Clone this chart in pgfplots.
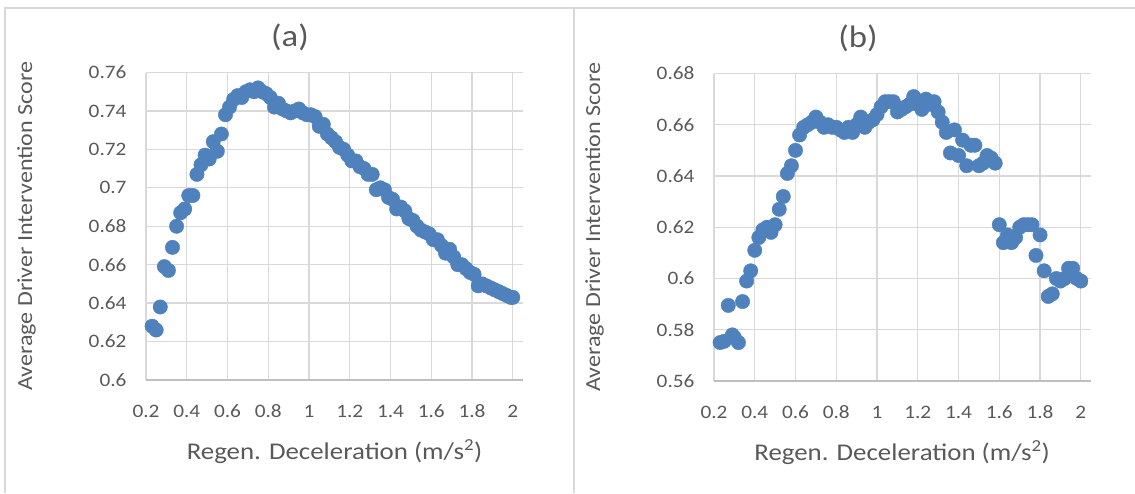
\documentclass[border=0pt]{standalone}
\usepackage{pgfplots}
\pgfplotsset{compat=1.18}
\usepackage{pgfplotstable}
\usepackage{fontspec}
\setmainfont{Carlito}[FakeStretch=1.12]
\definecolor{txt}{RGB}{89,89,89}
\definecolor{grd}{RGB}{217,217,217}
\definecolor{axl}{RGB}{191,191,191}
\definecolor{ptc}{RGB}{79,129,189}

\pgfplotstableread{
x y
0.23 0.628
0.25 0.626
0.27 0.638
0.29 0.659
0.31 0.657
0.33 0.669
0.35 0.680
0.37 0.687
0.39 0.689
0.41 0.696
0.43 0.696
0.45 0.707
0.47 0.712
0.49 0.717
0.51 0.715
0.53 0.724
0.55 0.719
0.57 0.728
0.59 0.738
0.61 0.742
0.63 0.746
0.65 0.748
0.67 0.747
0.69 0.750
0.71 0.751
0.73 0.750
0.75 0.752
0.77 0.750
0.79 0.749
0.81 0.747
0.83 0.742
0.85 0.744
0.87 0.741
0.89 0.740
0.91 0.739
0.93 0.740
0.95 0.741
0.97 0.739
0.99 0.738
1.01 0.738
1.03 0.737
1.05 0.732
1.07 0.733
1.09 0.728
1.11 0.726
1.13 0.724
1.15 0.721
1.17 0.720
1.19 0.717
1.21 0.714
1.23 0.714
1.25 0.711
1.27 0.710
1.29 0.707
1.31 0.707
1.33 0.699
1.35 0.700
1.37 0.699
1.39 0.695
1.41 0.694
1.43 0.689
1.45 0.690
1.47 0.688
1.49 0.684
1.51 0.683
1.53 0.680
1.55 0.678
1.57 0.677
1.59 0.676
1.61 0.673
1.63 0.673
1.65 0.670
1.67 0.666
1.69 0.668
1.71 0.664
1.73 0.660
1.75 0.660
1.77 0.658
1.79 0.656
1.81 0.655
1.83 0.649
1.85 0.650
1.87 0.649
1.89 0.648
1.91 0.647
1.93 0.646
1.95 0.645
1.97 0.644
1.99 0.643
2.00 0.643
}\dataA

\pgfplotstableread{
x y
0.23 0.575
0.25 0.5755
0.27 0.5895
0.29 0.578
0.30 0.577
0.32 0.575
0.34 0.591
0.36 0.599
0.38 0.603
0.40 0.611
0.42 0.616
0.44 0.619
0.46 0.620
0.48 0.618
0.50 0.621
0.52 0.627
0.54 0.632
0.56 0.641
0.58 0.644
0.60 0.650
0.62 0.656
0.64 0.659
0.66 0.660
0.68 0.661
0.70 0.663
0.72 0.661
0.74 0.659
0.76 0.660
0.78 0.659
0.80 0.659
0.82 0.658
0.84 0.657
0.86 0.659
0.88 0.657
0.90 0.660
0.92 0.663
0.94 0.659
0.96 0.661
0.98 0.662
1.00 0.664
1.02 0.667
1.04 0.669
1.06 0.669
1.08 0.669
1.10 0.665
1.12 0.666
1.14 0.667
1.16 0.668
1.18 0.671
1.20 0.668
1.22 0.666
1.24 0.670
1.26 0.668
1.28 0.669
1.30 0.665
1.32 0.661
1.34 0.657
1.36 0.649
1.38 0.658
1.40 0.648
1.42 0.654
1.44 0.644
1.46 0.652
1.48 0.652
1.50 0.644
1.52 0.645
1.54 0.648
1.56 0.647
1.58 0.645
1.60 0.621
1.62 0.614
1.64 0.617
1.66 0.614
1.68 0.616
1.70 0.620
1.72 0.621
1.74 0.621
1.76 0.621
1.78 0.609
1.80 0.617
1.82 0.603
1.84 0.593
1.86 0.594
1.88 0.600
1.90 0.599
1.92 0.600
1.94 0.604
1.96 0.604
1.98 0.600
2.00 0.599
}\dataB

\pgfplotsset{
  panel/.style={
    scale only axis, width=377pt, height=307.5pt, anchor=south west,
    xmin=0.2, xmax=2.05,
    xtick={0.2,0.4,0.6,0.8,1,1.2,1.4,1.6,1.8,2},
    xticklabels={0.2,0.4,0.6,0.8,1,1.2,1.4,1.6,1.8,2},
    grid=major, major grid style={grd, line width=1.3pt},
    axis line style={draw=none},
    major tick length=0pt,
    tick label style={font=\fontsize{19}{21}\selectfont, text=txt},
    xticklabel style={anchor=base, yshift=-37pt},
    yticklabel style={anchor=east, xshift=-16pt},
    /pgf/number format/assume math mode=true,
    xlabel={Regen. Deceleration (m/s\textsuperscript{2})},
    xlabel style={font=\fontsize{24}{28}\selectfont, text=txt, at={(axis description cs:0.5,-0.257)}, anchor=base},
    ylabel={Average Driver Intervention Score},
    ylabel style={font=\fontsize{21.5}{25}\selectfont, text=txt, at={(axis description cs:-0.302,0.5)}, anchor=base, rotate=0},
    title style={font=\fontsize{31}{34}\selectfont, text=txt, at={(axis description cs:0.382,1.064)}, anchor=base},
    clip=false,
  }
}

\begin{document}
\begin{tikzpicture}[x=1pt,y=1pt]
\path[use as bounding box] (0pt,0pt) rectangle (1135pt,-493pt);
\draw[grd, line width=1.3pt] (5pt,-493pt) -- (5pt,-8pt) -- (1135pt,-8pt);
\draw[grd, line width=1.3pt] (574pt,-8pt) -- (574pt,-493pt);

\begin{axis}[panel, at={(146pt,-380pt)}, title={(a)},
  ymin=0.6, ymax=0.76,
  ytick={0.6,0.62,0.64,0.66,0.68,0.7,0.72,0.74,0.76},
  yticklabels={0.6,0.62,0.64,0.66,0.68,0.7,0.72,0.74,0.76}]
\addplot[only marks, mark=*, mark size=7.2pt, mark options={draw=ptc, fill=ptc}] table[x=x,y=y] {\dataA};
\draw[axl, line width=1.3pt] (rel axis cs:0,0) -- (rel axis cs:1,0);
\end{axis}

\begin{axis}[panel, at={(714pt,-381pt)}, title={(b)},
  ymin=0.56, ymax=0.68,
  ytick={0.56,0.58,0.6,0.62,0.64,0.66,0.68},
  yticklabels={0.56,0.58,0.6,0.62,0.64,0.66,0.68},
  xlabel style={at={(axis description cs:0.499,-0.257)}}]
\addplot[only marks, mark=*, mark size=7.2pt, mark options={draw=ptc, fill=ptc}] table[x=x,y=y] {\dataB};
\draw[axl, line width=1.3pt] (rel axis cs:0,0) -- (rel axis cs:1,0);
\end{axis}
\end{tikzpicture}
\end{document}
